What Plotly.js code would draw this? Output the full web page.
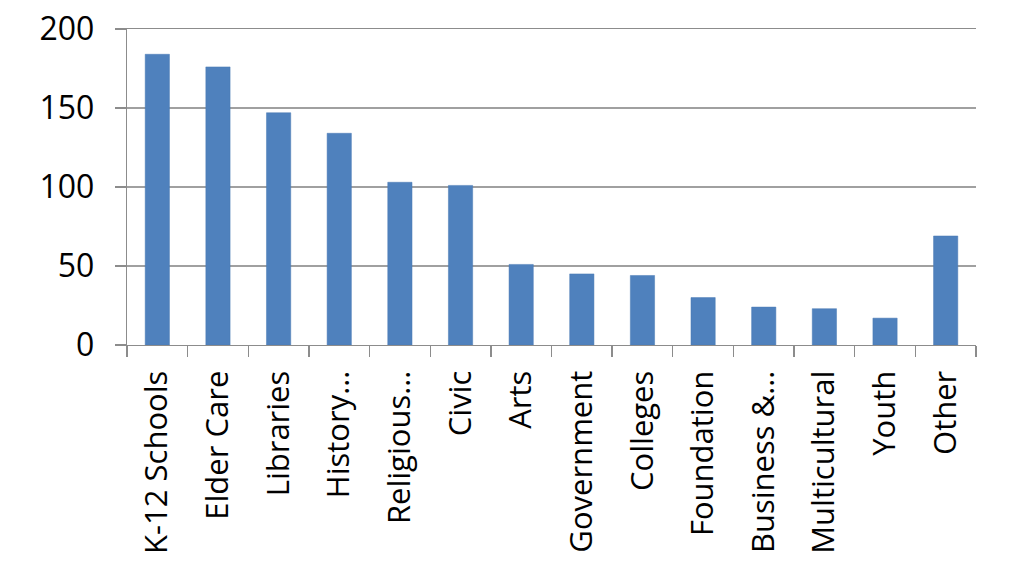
<!DOCTYPE html>
<html>
<head>
<meta charset="utf-8">
<script src="https://cdn.plot.ly/plotly-3.0.1.min.js"></script>
<style>html,body{margin:0;padding:0;background:#fff;}#chart{width:1024px;height:579px;}</style>
</head>
<body>
<div id="chart"></div>
<script>
const categories = ["K-12 Schools","Elder Care","Libraries","History…","Religious…","Civic","Arts","Government","Colleges","Foundation","Business &…","Multicultural","Youth","Other"];
const counts = [184,176,147,134,103,101,51,45,44,30,24,23,17,69];
const yTicks = [0,50,100,150,200];

Plotly.newPlot('chart', [{
  type: 'bar',
  x: categories,
  y: counts,
  marker: {color: '#4f81bd', line: {color: '#4a7ab5', width: 0.5}},
  hoverinfo: 'x+y'
}], {
  width: 1024, height: 579,
  margin: {l: 127, r: 48, t: 29, b: 234},
  paper_bgcolor: '#ffffff', plot_bgcolor: '#ffffff',
  bargap: 0.6,
  showlegend: false,
  font: {family: 'Open Sans, sans-serif', color: '#000000'},
  xaxis: {
    type: 'category',
    tickangle: -90,
    tickfont: {size: 31, color: '#000000'},
    ticks: 'outside', ticklen: 11, tickcolor: '#8c8c8c', tickwidth: 1.3,
    tickson: 'boundaries',
    showline: true, linecolor: '#8c8c8c', linewidth: 1.3,
    mirror: true,
    showgrid: false,
    ticklabelstandoff: 12
  },
  yaxis: {
    range: [0, 200],
    tickvals: yTicks,
    ticktext: yTicks.map(String),
    tickfont: {size: 32, color: '#000000'},
    ticks: 'outside', ticklen: 11, tickcolor: '#8c8c8c', tickwidth: 1.3,
    showline: true, linecolor: '#8c8c8c', linewidth: 1.3,
    showgrid: true, gridcolor: '#a0a0a0', gridwidth: 1.5,
    zeroline: false,
    ticklabelstandoff: 14
  }
}, {displayModeBar: false, staticPlot: true});
</script>
</body>
</html>
